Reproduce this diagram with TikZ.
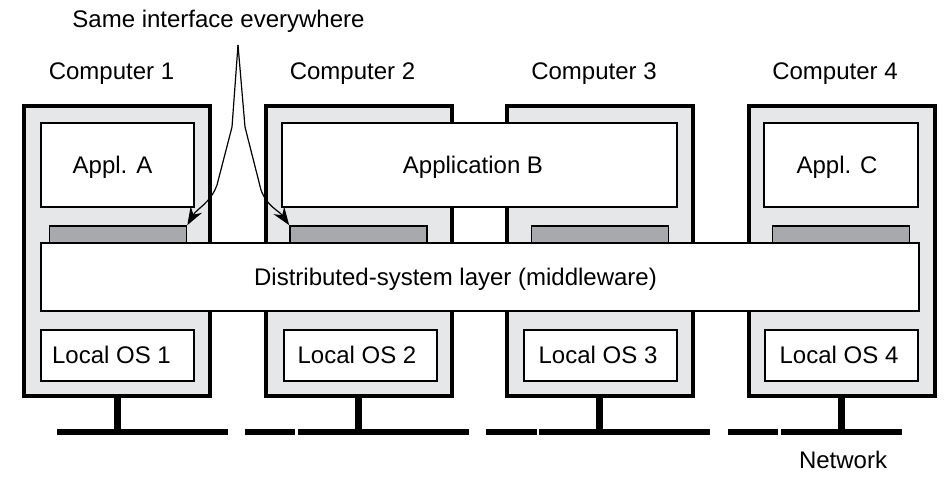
\documentclass[tikz,border=0pt]{standalone}
\usepackage{fontspec}
\setmainfont{Liberation Sans}
\usetikzlibrary{arrows.meta}

\definecolor{casegray}{HTML}{E6E7E8}
\definecolor{bargray}{HTML}{A7A9AC}

\tikzset{
    computer/.style={draw, line width=2pt, fill=casegray, inner sep=0pt,
        minimum width=93pt, minimum height=145pt},
    appbox/.style={draw, line width=1pt, fill=white, inner sep=0pt,
        minimum height=42pt, text depth=0pt},
    osbox/.style={draw, line width=1pt, fill=white, inner sep=0pt,
        minimum width=76.5pt, minimum height=25.5pt},
    ifbar/.style={draw, line width=0.8pt, fill=bargray, inner sep=0pt,
        minimum width=68.5pt, minimum height=8.5pt},
    label/.style={inner sep=0pt},
    netline/.style={line width=3pt},
    stem/.style={line width=3.5pt},
    pointer/.style={line width=0.6pt, -{Stealth[length=9pt, width=6.5pt]}}
}

\begin{document}
\begin{tikzpicture}[x=0.5pt, y=-0.5pt, font=\fontsize{12}{14}\selectfont]
                \useasboundingbox (0,0) rectangle (951,480);

                % computers
                \node[computer] (c1) at (117,251) {};
                \node[computer] (c2) at (358.5,251) {};
                \node[computer] (c3) at (599.5,251) {};
                \node[computer] (c4) at (841.5,251) {};

                \node[label] (t1) at (111.5,74) {Computer 1};
                \node[label] (t2) at (352.5,74) {Computer 2};
                \node[label] (t3) at (594,74) {Computer 3};
                \node[label] (t4) at (835,74) {Computer 4};

                % interfaces
                \node[ifbar] (i1) at (118,234.5) {};
                \node[ifbar] (i2) at (358.5,234.5) {};
                \node[ifbar] (i3) at (600,234.5) {};
                \node[ifbar] (i4) at (841,234.5) {};

                % applications
                \node[appbox, minimum width=76.5pt] (appA) at (117.5,165) {\hspace*{-5pt}Appl. A};
                \node[appbox, minimum width=197.5pt] (appB) at (479.5,165) {\hspace*{-6.5pt}Application B};
                \node[appbox, minimum width=77pt] (appC) at (841,165) {\hspace*{-4pt}Appl. C};

                \node[appbox, minimum width=439pt, minimum height=33.5pt] (mw) at (479.5,277)
                    {\hspace*{-24pt}Distributed-system layer (middleware)};

                % local operating systems
                \node[osbox] (os1) at (117.5,355) {\hspace*{-6pt}Local OS 1};
                \node[osbox] (os2) at (360,355) {\hspace*{-3pt}Local OS 2};
                \node[osbox] (os3) at (600,355) {\hspace*{-2pt}Local OS 3};
                \node[osbox] (os4) at (841,355) {\hspace*{-2pt}Local OS 4};

                % network
                \coordinate (n1) at (117,432);
                \coordinate (n2) at (358.5,432);
                \coordinate (n3) at (599.5,432);
                \coordinate (n4) at (841.5,432);

                \draw[stem] (c1.south) -- (n1);
                \draw[stem] (c2.south) -- (n2);
                \draw[stem] (c3.south) -- (n3);
                \draw[stem] (c4.south) -- (n4);

                \draw[netline] (57,432) -- (228,432);
                \draw[netline] (245,432) -- (295,432);
                \draw[netline] (298,432) -- (469,432);
                \draw[netline] (486,432) -- (537,432);
                \draw[netline] (539,432) -- (710,432);
                \draw[netline] (728,432) -- (778,432);
                \draw[netline] (781,432) -- (902,432);

                \node[label] (net) at (843,460) {Network};

                % same interface
                \node[label] (same) at (218.5,21) {Same interface everywhere};
                \coordinate (fork) at (238,45);
                \draw[pointer] (fork) -- (232,127) -- (217,185) to[out=-110, in=60] (i1.north east);
                \draw[pointer] (fork) -- (245,127) -- (261,190) to[out=-70, in=125] (i2.north west);
            \end{tikzpicture}
\end{document}
